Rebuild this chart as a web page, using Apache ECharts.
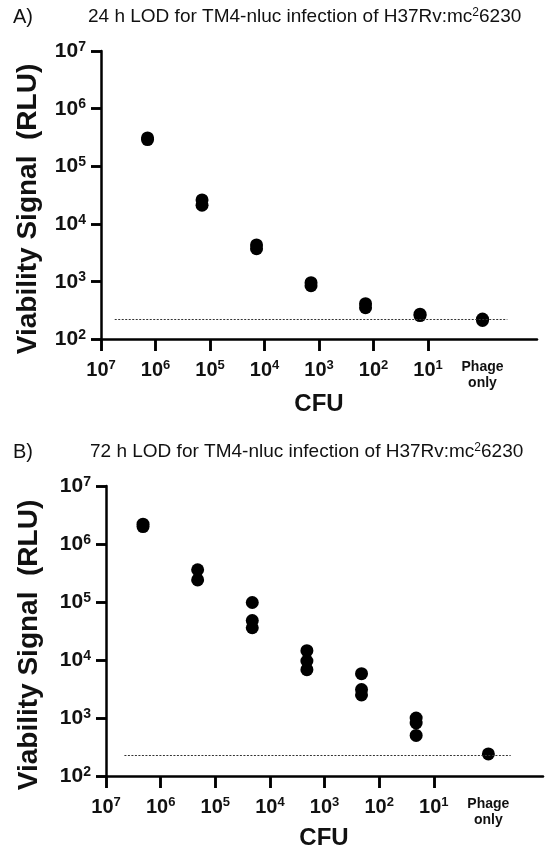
<!DOCTYPE html>
<html>
<head>
<meta charset="utf-8">
<script src="https://cdn.jsdelivr.net/npm/echarts@6/dist/echarts.min.js"></script>
<style>
  html, body { margin: 0; padding: 0; background: #fff; }
  #chart { width: 551px; height: 853px; }
</style>
</head>
<body>
<div id="chart"></div>
<script>
// Panel A: 24 h readout. CFU per well for each dilution (1 = phage-only control)
const cfu24 = [1.4e6, 1.4e5, 1.4e4, 1.4e3, 1.4e2, 1.4e1, 1];
const rlu24 = [
  [3.1e5, 2.9e5],
  [2.6e4, 2.1e4],
  [4.3e3, 3.7e3],
  [950, 840],
  [410, 350],
  [270, 255],
  [222, 210]
];
const lod24 = 219;
const lodSpan24 = [5.6e6, 0.35];

// Panel B: 72 h readout
const cfu72 = [2.1e6, 2.1e5, 2.1e4, 2.1e3, 2.1e2, 2.1e1, 1];
const rlu72 = [
  [2.2e6, 2.0e6],
  [3.6e5, 2.4e5],
  [9.8e4, 4.8e4, 3.6e4],
  [1.45e4, 9.6e3, 6.8e3],
  [5.8e3, 3.1e3, 2.5e3],
  [1.0e3, 8.2e2, 5.0e2],
  [240]
];
const lod72 = 232;
const lodSpan72 = [4.6e6, 0.39];

// Axis tick / label positions
const xTickValues = [1e7, 1e6, 1e5, 1e4, 1e3, 1e2, 1e1];
const xLabelValues = [1e7, 1e6, 1e5, 1e4, 1e3, 1e2, 1e1, 1];
const yTickValues = [1e2, 1e3, 1e4, 1e5, 1e6, 1e7];

const FONT = '"Liberation Sans", Arial, Helvetica, sans-serif';

function powerLabel(v) {
  const e = Math.round(Math.log10(v));
  if (e === 0) return '{p|Phage}\n{p|only}';
  return '{b|10}{s|' + e + '}';
}

const xRich = {
  b: { fontFamily: FONT, fontSize: 20, fontWeight: 'bold', color: '#111', lineHeight: 21, verticalAlign: 'bottom' },
  s: { fontFamily: FONT, fontSize: 13, fontWeight: 'bold', color: '#111', verticalAlign: 'top' },
  p: { fontFamily: FONT, fontSize: 14, fontWeight: 'bold', color: '#111', lineHeight: 16, align: 'center' }
};
const yRich = {
  b: { fontFamily: FONT, fontSize: 21, fontWeight: 'bold', color: '#111', lineHeight: 22, verticalAlign: 'bottom' },
  s: { fontFamily: FONT, fontSize: 14, fontWeight: 'bold', color: '#111', verticalAlign: 'top' }
};

function axisStroke() { return { color: '#000', width: 2.5 }; }
function tickStroke() { return { color: '#000', width: 2.5, type: [60, 0.01] }; }

function pairs(cfu, rlu) {
  const out = [];
  cfu.forEach((c, i) => rlu[i].forEach(r => out.push([c, r])));
  return out;
}

// Main panel axes: one pair draws the axis lines and ticks,
// the overlaid pair carries the superscript labels.
function xLineAxis(g) {
  return {
    type: 'log', logBase: 10, gridIndex: g, position: 'bottom',
    min: 0.1, max: 1e7, inverse: true,
    axisLine: { show: true, lineStyle: axisStroke() },
    axisTick: { show: true, length: 12, customValues: xTickValues, lineStyle: tickStroke() },
    axisLabel: { show: false },
    splitLine: { show: false }
  };
}
function xLabelAxis(g) {
  return {
    type: 'log', logBase: 10, gridIndex: g, position: 'bottom',
    min: 0.1, max: 1e7, inverse: true,
    axisLine: { show: false }, axisTick: { show: false },
    axisLabel: { customValues: xLabelValues, formatter: powerLabel, rich: xRich, margin: 20, showMinLabel: true, showMaxLabel: true },
    splitLine: { show: false }
  };
}
function yLineAxis(g) {
  return {
    type: 'log', logBase: 10, gridIndex: g, position: 'left',
    min: 100, max: 1e7,
    axisLine: { show: true, lineStyle: axisStroke() },
    axisTick: { show: true, length: 10, lineStyle: tickStroke() },
    axisLabel: { show: false },
    splitLine: { show: false }
  };
}
function yLabelAxis(g) {
  return {
    type: 'log', logBase: 10, gridIndex: g, position: 'left',
    min: 100, max: 1e7,
    axisLine: { show: false }, axisTick: { show: false },
    axisLabel: { formatter: powerLabel, rich: yRich, margin: 15, showMinLabel: true, showMaxLabel: true },
    splitLine: { show: false }
  };
}

// Tick strips: narrow grids just outside each axis; tick marks are drawn
// there as short segments at each tick value.
function xStripAxis(g) {
  return { type: 'log', logBase: 10, gridIndex: g, min: 0.1, max: 1e7, inverse: true, show: false };
}
function yStripAxis(g) {
  return { type: 'log', logBase: 10, gridIndex: g, min: 100, max: 1e7, show: false };
}
function unitAxis(g) {
  return { type: 'value', gridIndex: g, min: 0, max: 1, show: false };
}
function tickSeries(axisIdx, segments) {
  return {
    type: 'scatter', xAxisIndex: axisIdx, yAxisIndex: axisIdx,
    data: [], silent: true, clip: false,
    markLine: {
      silent: true, symbol: 'none', label: { show: false },
      lineStyle: { color: '#000', width: 2.5, type: 'solid', opacity: 1 },
      emphasis: { disabled: true },
      data: segments
    }
  };
}
const xTickSegments = xTickValues.map(v => [{ coord: [v, 0] }, { coord: [v, 1] }]);
const yTickSegments = yTickValues.map(v => [{ coord: [0, v] }, { coord: [1, v] }]);

// Scatter of replicate wells, with the limit of detection as a dotted markLine
function panelSeries(axisIdx, data, span, level) {
  return {
    type: 'scatter', xAxisIndex: axisIdx, yAxisIndex: axisIdx,
    data: data, symbol: 'circle', symbolSize: 13, z: 3,
    itemStyle: { color: '#000', opacity: 1 },
    markLine: {
      silent: true, symbol: 'none', label: { show: false },
      lineStyle: { color: '#333', width: 1, type: [2, 1.5], opacity: 1 },
      emphasis: { disabled: true },
      data: [[{ coord: [span[0], level] }, { coord: [span[1], level] }]]
    }
  };
}

function plainText(x, y, text, font) {
  return {
    type: 'text', left: x, top: y,
    style: {
      text: text, fill: '#111', font: font,
      rich: { s: { fontSize: 12, fontFamily: FONT, verticalAlign: 'top', fill: '#111' } }
    }
  };
}
function centeredText(cx, cy, text, font, rotation) {
  return {
    type: 'text', x: cx, y: cy, rotation: rotation || 0,
    style: { text: text, fill: '#111', font: font, align: 'center', verticalAlign: 'middle' }
  };
}

const chart = echarts.init(document.getElementById('chart'));
chart.setOption({
  animation: false,
  grid: [
    { left: 101, top: 51, width: 436, height: 288 },      // A main
    { left: 106, top: 486, width: 437, height: 290 },     // B main
    { left: 101, top: 339, width: 436, height: 12 },      // A x tick strip
    { left: 91, top: 51, width: 10, height: 288 },        // A y tick strip
    { left: 106, top: 776, width: 437, height: 12 },      // B x tick strip
    { left: 96, top: 486, width: 10, height: 290 }        // B y tick strip
  ],
  xAxis: [
    xLineAxis(0), xLabelAxis(0), xLineAxis(1), xLabelAxis(1),
    xStripAxis(2), unitAxis(3), xStripAxis(4), unitAxis(5)
  ],
  yAxis: [
    yLineAxis(0), yLabelAxis(0), yLineAxis(1), yLabelAxis(1),
    unitAxis(2), yStripAxis(3), unitAxis(4), yStripAxis(5)
  ],
  graphic: [
    plainText(13, 7, 'A)', '20px ' + FONT),
    plainText(88, 7, '24 h LOD for TM4-nluc infection of H37Rv:mc{s|2}6230', '19px ' + FONT),
    plainText(13, 442, 'B)', '20px ' + FONT),
    plainText(90, 442, '72 h LOD for TM4-nluc infection of H37Rv:mc{s|2}6230', '19px ' + FONT),
    centeredText(28, 209, 'Viability Signal  (RLU)', 'bold 28px ' + FONT, Math.PI / 2),
    centeredText(29, 645, 'Viability Signal  (RLU)', 'bold 28px ' + FONT, Math.PI / 2),
    centeredText(319, 404, 'CFU', 'bold 24px ' + FONT),
    centeredText(324, 838, 'CFU', 'bold 24px ' + FONT)
  ],
  series: [
    panelSeries(1, pairs(cfu24, rlu24), lodSpan24, lod24),
    panelSeries(3, pairs(cfu72, rlu72), lodSpan72, lod72),
    tickSeries(4, xTickSegments),
    tickSeries(5, yTickSegments),
    tickSeries(6, xTickSegments),
    tickSeries(7, yTickSegments)
  ]
});
</script>
</body>
</html>
